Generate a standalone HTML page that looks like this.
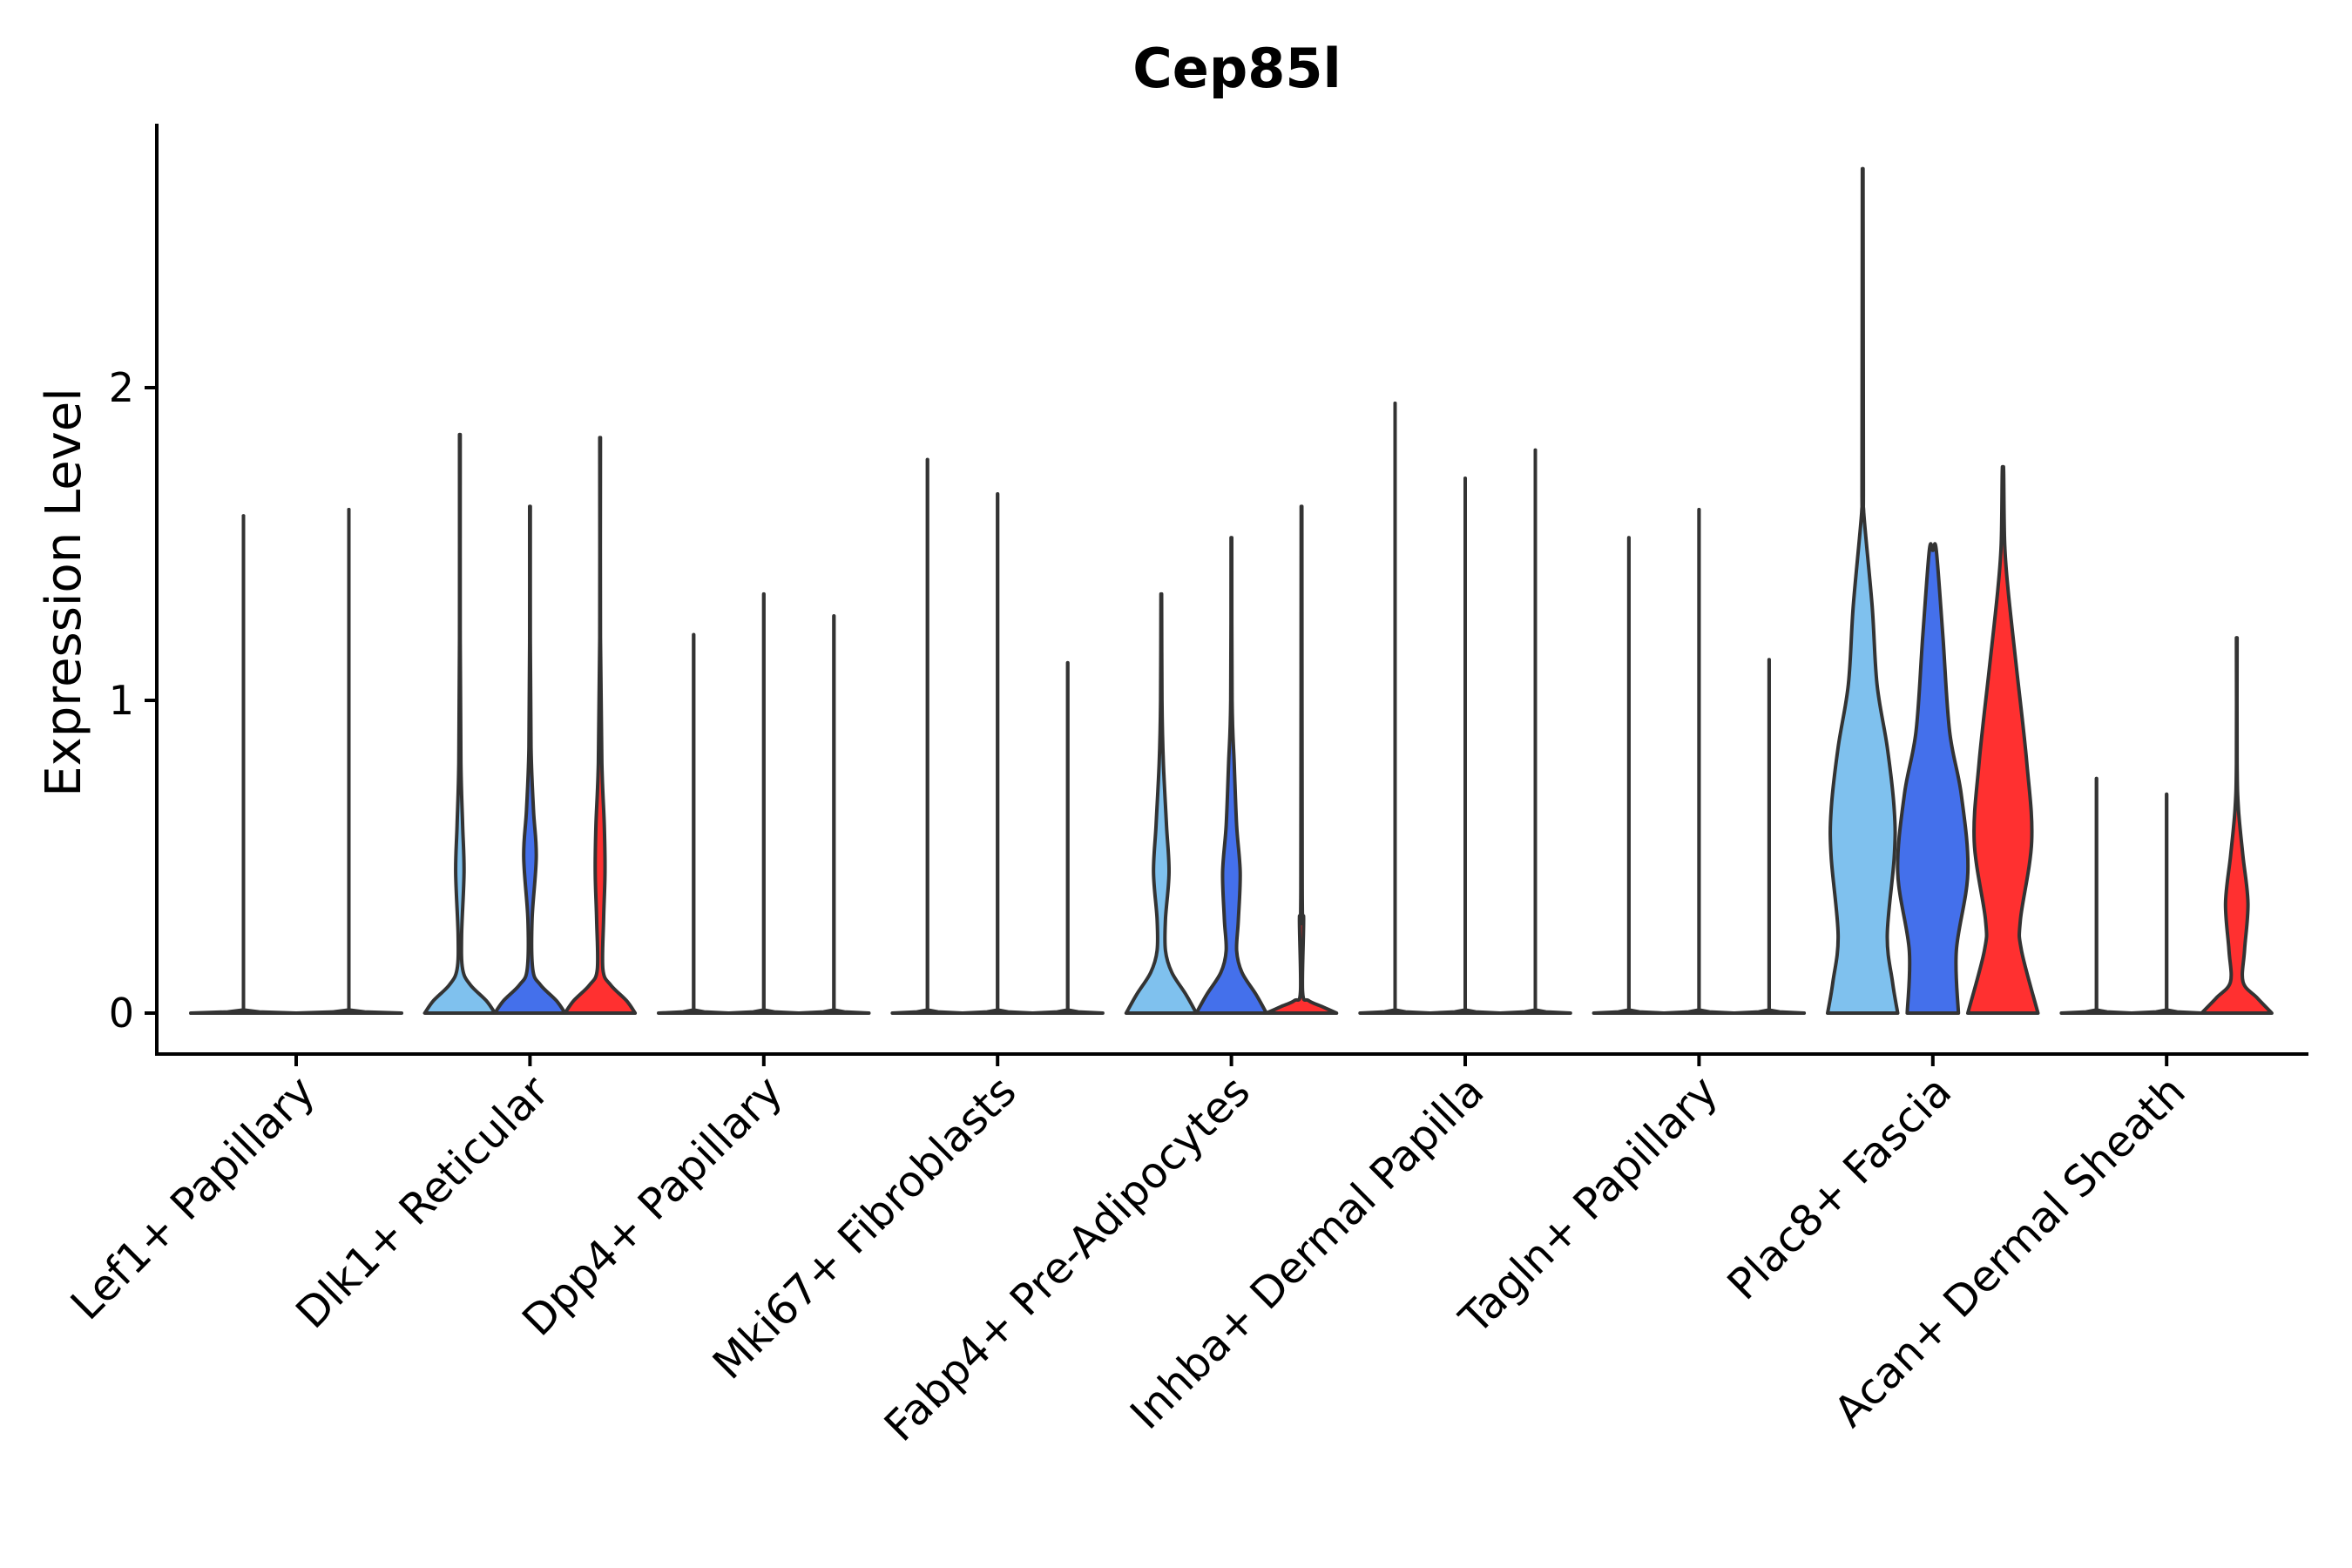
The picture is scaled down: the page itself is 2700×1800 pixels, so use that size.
<!DOCTYPE html>
<html><head><meta charset="utf-8"><style>
html,body{margin:0;padding:0;background:#fff;}
svg{display:block;font-family:"DejaVu Sans","Liberation Sans",sans-serif;}
</style></head><body>
<svg id="chart" width="2700" height="1800" viewBox="0 0 2700 1800" xmlns="http://www.w3.org/2000/svg">
<text x="1420" y="100" font-size="62" font-weight="bold" text-anchor="middle" fill="#000">Cep85l</text>
<text transform="translate(92,680) rotate(-90)" font-size="56" text-anchor="middle" fill="#000">Expression Level</text>
<g id="plot"></g>
</svg>
<script>
const categories = ["Lef1+ Papillary","Dlk1+ Reticular","Dpp4+ Papillary","Mki67+ Fibroblasts","Fabp4+ Pre-Adipocytes","Inhba+ Dermal Papilla","Tagln+ Papillary","Plac8+ Fascia","Acan+ Dermal Sheath"];
const maxValues = [[1.59,1.61],[1.85,1.62,1.84],[1.21,1.34,1.27],[1.77,1.66,1.12],[1.34,1.52,1.62],[1.95,1.71,1.80],[1.52,1.61,1.13],[2.70,1.48,1.73],[0.75,0.70,1.20]];
const conditionColors = [["#7FC1EE","#4470EB"],["#7FC1EE","#4470EB","#FF3030"],["#7FC1EE","#4470EB","#FF3030"],["#7FC1EE","#4470EB","#FF3030"],["#7FC1EE","#4470EB","#FF3030"],["#7FC1EE","#4470EB","#FF3030"],["#7FC1EE","#4470EB","#FF3030"],["#7FC1EE","#4470EB","#FF3030"],["#7FC1EE","#4470EB","#FF3030"]];
const zeroProfile = [[0,1],[0.004,0.3],[0.01,0]];
const dlkLB = [[0,1],[0.04,0.75],[0.09,0.3],[0.14,0.08],[0.25,0.05],[0.45,0.12],[0.6,0.08],[0.8,0.03],[1.2,0.01]];
const dlkB = [[0,1],[0.04,0.75],[0.09,0.3],[0.14,0.08],[0.3,0.06],[0.5,0.18],[0.65,0.1],[0.85,0.03],[1.2,0.01]];
const dlkR = [[0,1],[0.04,0.75],[0.09,0.3],[0.14,0.08],[0.3,0.1],[0.45,0.14],[0.6,0.12],[0.8,0.05],[1.2,0.01]];
const fabLB = [[0,1],[0.06,0.7],[0.13,0.3],[0.2,0.12],[0.3,0.12],[0.45,0.22],[0.6,0.15],[0.8,0.06],[1.0,0.02]];
const fabB = [[0,1],[0.06,0.7],[0.13,0.3],[0.2,0.15],[0.3,0.2],[0.45,0.25],[0.6,0.15],[0.8,0.08],[1.0,0.02]];
const fabR = [[0,1],[0.02,0.6],[0.04,0.2],[0.07,0.03],[0.3,0.06],[0.4,0.02]];
const placLB = [[0,1],[0.1,0.85],[0.25,0.7],[0.5,0.9],[0.65,0.9],[0.85,0.7],[1.05,0.41],[1.3,0.27],[1.6,0.03],[1.7,0.02]];
const placB = [[0,0.73],[0.2,0.67],[0.45,1.0],[0.7,0.81],[0.9,0.48],[1.2,0.29],[1.48,0.1]];
const placR = [[0,1],[0.2,0.53],[0.3,0.5],[0.55,0.82],[0.8,0.68],[1.1,0.39],[1.35,0.15],[1.5,0.05],[1.73,0.02]];
const acanR = [[0,1],[0.05,0.57],[0.1,0.18],[0.2,0.22],[0.35,0.32],[0.5,0.18],[0.65,0.05],[0.8,0.01]];
const profiles = [[zeroProfile,zeroProfile],[dlkLB,dlkB,dlkR],[zeroProfile,zeroProfile,zeroProfile],[zeroProfile,zeroProfile,zeroProfile],[fabLB,fabB,fabR],[zeroProfile,zeroProfile,zeroProfile],[zeroProfile,zeroProfile,zeroProfile],[placLB,placB,placR],[zeroProfile,zeroProfile,acanR]];
const yTicks = [0,1,2];

const NS = "http://www.w3.org/2000/svg";
const plot = document.getElementById('plot');
const X0 = 180, X1 = 2650, YTOP = 142, YBOT = 1210;
const groupStart = 340, groupStep = 268.4;
function yScale(v){ return 1163 - v * 359; }
function xScale(i){ return groupStart + i * groupStep; }
function mk(tag, attrs){ const e = document.createElementNS(NS, tag); for (const k in attrs) e.setAttribute(k, attrs[k]); return e; }

function smoothSide(pts, vx, yBase, dir){
  let d = "";
  const clampP = (p) => {
    let x = p[0], y = Math.min(p[1], yBase);
    if (dir > 0) x = Math.max(x, vx); else x = Math.min(x, vx);
    return x.toFixed(1) + "," + y.toFixed(1);
  };
  for (let i = 0; i < pts.length - 1; i++){
    const p0 = pts[Math.max(i-1,0)], p1 = pts[i], p2 = pts[i+1], p3 = pts[Math.min(i+2,pts.length-1)];
    const c1 = [p1[0] + (p2[0]-p0[0])/6, p1[1] + (p2[1]-p0[1])/6];
    const c2 = [p2[0] - (p3[0]-p1[0])/6, p2[1] - (p3[1]-p1[1])/6];
    d += " C" + clampP(c1) + " " + clampP(c2) + " " + p2[0].toFixed(1) + "," + p2[1].toFixed(1);
  }
  return d;
}

categories.forEach((cat, gi) => {
  const n = maxValues[gi].length;
  const slot = n === 2 ? 121 : 80.5;
  const half = slot / 2;
  const cx = xScale(gi);
  maxValues[gi].forEach((mx, ci) => {
    const vx = cx + (ci - (n - 1) / 2) * slot;
    const prof = profiles[gi][ci];
    const yBase = yScale(0);
    const ln = mk('line', {x1: vx, x2: vx, y1: yScale(mx), y2: yBase, stroke: "#333", "stroke-width": 4, "stroke-linecap": "round"});
    
    
    plot.appendChild(ln);
    const right = [];
    prof.forEach(p => { right.push([vx + p[1] * half, yScale(p[0])]); });
    const lastW = prof[prof.length - 1][1];
    right.push([vx + Math.min(lastW, 0.01) * half, yScale(mx)]);
    const left = right.slice().reverse().map(p => [2 * vx - p[0], p[1]]);
    let d;
    if (prof[prof.length - 1][0] < 0.05) {
      d = "M" + right.concat(left).map(p => p[0].toFixed(1) + "," + p[1].toFixed(1)).join(" L") + " Z";
    } else {
      d = "M" + right[0][0].toFixed(1) + "," + right[0][1].toFixed(1) + smoothSide(right, vx, yBase, 1) +
          " L" + left[0][0].toFixed(1) + "," + left[0][1].toFixed(1) + smoothSide(left, vx, yBase, -1) + " Z";
    }
    const path = mk('path', {d: d, fill: conditionColors[gi][ci], stroke: "#333", "stroke-width": 4, "stroke-linejoin": "round"});
    
    
    plot.appendChild(path);
  });
  const tk = mk('line', {x1: cx, x2: cx, y1: YBOT, y2: YBOT + 14, stroke: "#000", "stroke-width": 4});
  
  
  plot.appendChild(tk);
  const ax = cx + 24, ay = YBOT + 46;
  const t = mk('text', {x: ax, y: ay, "font-size": 49, "text-anchor": "end", fill: "#000", transform: "rotate(-45 " + ax + " " + ay + ")"});
  t.textContent = cat;
  
  
  plot.appendChild(t);
});

yTicks.forEach(v => {
  const y = yScale(v);
  const tk = mk('line', {x1: X0 - 14, x2: X0, y1: y, y2: y, stroke: "#000", "stroke-width": 4});
  
  
  plot.appendChild(tk);
  const t = mk('text', {x: X0 - 26, y: y + 16, "font-size": 46, "text-anchor": "end", fill: "#000"});
  t.textContent = String(v);
  
  
  plot.appendChild(t);
});

const ya = mk('line', {x1: X0, x2: X0, y1: YTOP, y2: YBOT + 2, stroke: "#000", "stroke-width": 4});


plot.appendChild(ya);
const xa = mk('line', {x1: X0 - 2, x2: X1, y1: YBOT, y2: YBOT, stroke: "#000", "stroke-width": 4});


plot.appendChild(xa);
</script>
</body></html>
